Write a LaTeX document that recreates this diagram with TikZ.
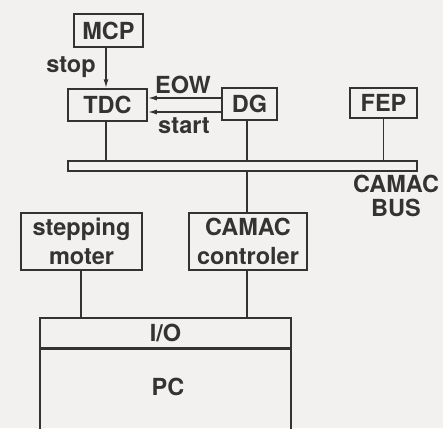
\documentclass[tikz,border=0pt]{standalone}
\usepackage{fontspec}
\setmainfont{TeX Gyre Heros}
\usetikzlibrary{arrows.meta,positioning}
\definecolor{inkgray}{HTML}{333333}
\definecolor{paper}{HTML}{F3F1EF}

\begin{document}
\begin{tikzpicture}[
  x=1pt, y=-1pt,
  font=\fontsize{23.5}{29}\selectfont\bfseries,
  text=inkgray,
  unit/.style={draw=inkgray, line width=1.5pt, inner sep=0pt, align=center},
  link/.style={draw=inkgray, line width=1.5pt},
  signal/.style={-{Latex[length=9pt,width=5pt]}, draw=inkgray, line width=1.5pt}
]
\clip (0,0) rectangle (443,428);
\fill[paper] (0,0) rectangle (443,428);

\node[unit, minimum width=69pt, minimum height=33pt] (mcp) at (108.5,30.5) {MCP};
\node[unit, minimum width=79pt, minimum height=32pt] (tdc) at (107.5,105) {TDC};
\node[unit, minimum width=55pt, minimum height=32pt] (dg) at (249.5,104) {DG};
\node[unit, minimum width=67pt, minimum height=30pt] (fep) at (383.5,103) {FEP};
\node[unit, minimum width=349pt, minimum height=10pt] (bus) at (242.5,166) {};
\node[unit, minimum width=121pt, minimum height=57pt] (motor) at (81.5,241.5) {stepping\\moter};
\node[unit, minimum width=118pt, minimum height=57pt] (ctrl) at (248,241.5) {CAMAC\\controler};
\node[unit, minimum width=251pt, minimum height=30pt] (io) at (165.5,333) {I/O};
\node[unit, minimum width=251pt, minimum height=100pt, anchor=north] (pc) at (io.south) {};
\node (pclabel) at (168,387) {PC};

\node (stop) at (71,67) {stop};
\node (eow) at (183,85) {EOW};
\node (start) at (184,126) {start};
\node[align=center, inner sep=0pt, font=\fontsize{23.5}{24}\selectfont\bfseries] (buslabel) at (396,196) {CAMAC\\BUS};

\draw[signal] (mcp.south -| 106,0) -- (tdc.north -| 106,0);
\draw[signal] ([yshift=6pt]dg.west) -- ([yshift=6pt]dg.west -| tdc.east);
\draw[signal] ([yshift=-8pt]dg.west) -- ([yshift=-8pt]dg.west -| tdc.east);

\draw[link] (tdc.south -| 106,0) -- (bus.north -| 106,0);
\draw[link] (dg.south -| 247,0) -- (bus.north -| 247,0);
\draw[link] (fep.south) -- (bus.north -| fep.south);
\draw[link] (bus.south -| 247,0) -- (ctrl.north -| 247,0);
\draw[link] (motor.south -| 81,0) -- (io.north -| 81,0);
\draw[link] (ctrl.south -| 247,0) -- (io.north -| 247,0);
\end{tikzpicture}
\end{document}
